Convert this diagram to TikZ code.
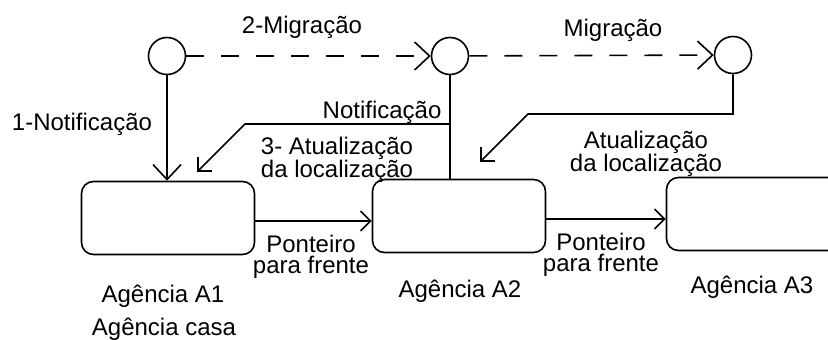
\documentclass[tikz,border=0pt]{standalone}
\usepackage{fontspec}
\setmainfont{Liberation Sans}
\usetikzlibrary{arrows.meta}

\begin{document}
\begin{tikzpicture}[x=1pt,y=1pt,yscale=-1,xscale=1,line width=1.6pt,
	state/.style={draw, circle, minimum size=37pt, inner sep=0pt},
	agency/.style={draw, rounded corners=12pt, minimum width=173pt, minimum height=73pt, inner sep=0pt},
	lbl/.style={inner sep=0.75pt, font=\fontsize{24}{21}\selectfont, align=center},
	arr/.style={-{Straight Barb[length=15pt,width=28pt]}},
	arrs/.style={-{Straight Barb[length=10pt,width=20pt]}},
	mig/.style={arr, dash pattern=on 18pt off 17pt}]
						%set diagram size 828 x 340
						\clip (0,0) rectangle (828,340);

						%Shape: Circle
						\node[state] (c1) at (167,56) {};
						%Shape: Circle
						\node[state] (c2) at (450,56) {};
						%Shape: Circle
						\node[state] (c3) at (733,55) {};

						%Shape: Rounded Rect
						\node[agency] (a1) at (168,218) {};
						%Shape: Rounded Rect
						\node[agency] (a2) at (459,216) {};
						%Shape: Rounded Rect
						\node[agency] (a3) at (753,214) {};

						%Straight Lines
						\draw[mig] (c1) -- (c2);
						\draw[mig] (c2) -- (c3);
						\draw[arr] (c1) -- (c1 |- a1.north);
						\draw (c2) -- (c2 |- a2.north);
						\coordinate (k1) at (245,124);
						\coordinate (t1) at (197,172);
						\draw[arrs] (c2 |- k1) -- (k1) -- (t1);
						\coordinate (k2) at (528,114);
						\coordinate (t2) at (480,162);
						\draw[arrs] (c3) |- (k2) -- (t2);
						\draw[arrs] ([yshift=3pt]a1.east) -- ([yshift=3pt]a1.east -| a2.west);
						\draw[arrs] ([yshift=3pt]a2.east) -- ([yshift=3pt]a2.east -| a3.west);

						% Text Node
						\node[lbl, anchor=base] (m1) at (302,34) {2-Migração};
						% Text Node
						\node[lbl, anchor=base] (m2) at (613,36) {Migração};
						% Text Node
						\node[lbl, anchor=base] (n1) at (82,130) {1-Notificação};
						% Text Node
						\node[lbl, anchor=base east] (n2) at (443,118) {Notificação};
						% Text Node
						\node[lbl] (u1) at (337,160) {3- Atualização\\da localização};
						% Text Node
						\node[lbl] (u2) at (646,154) {Atualização\\da localização};
						% Text Node
						\node[lbl] (p1) at (311,257) {Ponteiro\\para frente};
						% Text Node
						\node[lbl] (p2) at (601,255) {Ponteiro\\para frente};
						% Text Node
						\node[lbl, anchor=base] (g1) at (163,302) {Agência A1};
						% Text Node
						\node[lbl, anchor=base] (g1b) at (164,335) {Agência casa};
						% Text Node
						\node[lbl, anchor=base] (g2) at (460,297) {Agência A2};
						% Text Node
						\node[lbl, anchor=base] (g3) at (752,293) {Agência A3};
\end{tikzpicture}
\end{document}
